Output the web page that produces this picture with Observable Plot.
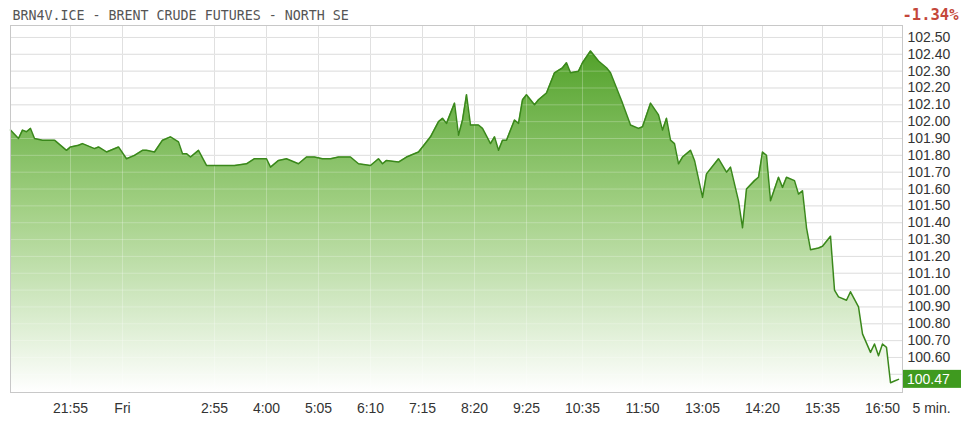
<!DOCTYPE html>
<html><head><meta charset="utf-8">
<script src="https://cdn.jsdelivr.net/npm/d3@7"></script>
<script src="https://cdn.jsdelivr.net/npm/@observablehq/plot@0.6"></script>
<style>
html,body{margin:0;padding:0;background:#fff;}
#chart{width:968px;height:422px;}
</style></head><body><div id="chart"></div>
<script>
const title = "BRN4V.ICE - BRENT CRUDE FUTURES - NORTH SE";
const changeText = "-1.34%";
const intervalText = "5 min.";
const lastPrice = 100.47;

const times = ["20:40","20:50","20:55","21:00","21:05","21:10","21:20","21:35","21:50","21:55",
"22:05","22:10","22:25","22:30","22:40","22:55","1:05","1:15","1:25","1:30",
"1:40","1:50","2:00","2:10","2:15","2:20","2:25","2:35","2:45","3:20",
"3:35","3:45","4:00","4:05","4:15","4:25","4:40","4:50","5:00","5:10",
"5:20","5:30","5:45","5:55","6:10","6:20","6:25","6:30","6:45","6:55",
"7:10","7:15","7:25","7:35","7:40","7:45","7:55","8:00","8:05","8:10",
"8:15","8:25","8:30","8:40","8:45","8:50","8:55","9:00","9:10","9:15",
"9:20","9:25","9:35","9:40","9:50","10:00","10:10","10:15","10:20","10:30",
"10:35","10:45","10:55","11:05","11:10","11:20","11:25","11:35","11:45","11:50",
"12:00","12:10","12:15","12:20","12:25","12:30","12:35","12:40","12:50","12:55",
"13:05","13:10","13:25","13:35","13:40","13:50","13:55","14:00","14:10","14:15",
"14:20","14:25","14:30","14:40","14:45","14:50","15:00","15:05","15:10","15:15",
"15:20","15:30","15:35","15:40","15:45","15:50","15:55","16:05","16:10","16:20",
"16:25","16:35","16:40","16:45","16:50","16:55","17:00","17:05","17:10"];

const prices = [101.95,101.90,101.95,101.94,101.96,101.90,101.89,101.89,101.83,101.85,
101.86,101.87,101.84,101.85,101.82,101.85,101.78,101.80,101.83,101.83,
101.82,101.89,101.91,101.88,101.81,101.81,101.79,101.83,101.74,101.74,
101.75,101.78,101.78,101.73,101.77,101.78,101.75,101.79,101.79,101.78,
101.78,101.79,101.79,101.75,101.74,101.78,101.75,101.77,101.76,101.79,
101.82,101.85,101.91,102.00,102.02,101.99,102.11,101.92,102.01,102.16,
101.98,101.98,101.96,101.87,101.91,101.83,101.89,101.89,102.01,101.99,
102.13,102.16,102.10,102.13,102.17,102.29,102.32,102.35,102.29,102.30,
102.35,102.42,102.36,102.32,102.29,102.17,102.11,101.98,101.96,101.97,
102.11,102.04,101.95,102.02,101.89,101.87,101.75,101.79,101.83,101.77,
101.55,101.69,101.78,101.70,101.73,101.53,101.37,101.60,101.65,101.67,
101.82,101.80,101.53,101.67,101.61,101.67,101.65,101.57,101.59,101.37,
101.24,101.25,101.26,101.29,101.32,101.00,100.96,100.94,100.99,100.90,
100.74,100.63,100.68,100.61,100.68,100.66,100.45,100.46,100.47];

const tickTimes = ["21:55","1:00","2:55","4:00","5:05","6:10","7:15","8:20","9:25","10:35","11:50","13:05","14:20","15:35","16:50"];
const tickLabels = ["21:55","Fri","2:55","4:00","5:05","6:10","7:15","8:20","9:25","10:35","11:50","13:05","14:20","15:35","16:50"];
const priceTicks = [100.60,100.70,100.80,100.90,101.00,101.10,101.20,101.30,101.40,101.50,101.60,101.70,101.80,101.90,102.00,102.10,102.20,102.30,102.40,102.50];
const gridPrices = [100.50].concat(priceTicks);
const timeDomain = ["20:40","17:15"];
const priceDomain = [100.392, 102.571];

// trading-time position: Thursday evening session, then closed 23:00-01:00
function tradeMin(s) {
  const [h, m] = s.split(":").map(Number);
  const mins = h * 60 + m;
  return mins >= 20 * 60 ? mins - (20 * 60 + 40) : 140 + mins - 60;
}

const data = times.map((t, i) => ({t: tradeMin(t), p: prices[i]}));
const tickPos = tickTimes.map(tradeMin);
const labelMap = new Map(tickPos.map((p, i) => [p, tickLabels[i]]));

const defs = () => {
  const g = d3.create("svg:defs");
  const lg = g.append("linearGradient").attr("id", "brentFill")
    .attr("x1", 0).attr("y1", 0).attr("x2", 0).attr("y2", 1);
  lg.append("stop").attr("offset", "0").attr("stop-color", "#52a22a");
  lg.append("stop").attr("offset", "0.45").attr("stop-color", "#a0cf82");
  lg.append("stop").attr("offset", "1").attr("stop-color", "#ffffff");
  return g.node();
};

const valueBox = (index, scales, values, dims) => {
  const g = d3.create("svg:g");
  const y = scales.y(lastPrice);
  const x0 = dims.width - dims.marginRight + 1;
  g.append("rect").attr("x", x0).attr("y", y - 9).attr("width", 58).attr("height", 18)
    .attr("fill", "#3f9a1f");
  g.append("text").attr("x", x0 + 4).attr("y", y).attr("dy", "0.35em")
    .attr("text-anchor", "start")
    .attr("fill", "#fff").attr("font-size", 14).text(lastPrice.toFixed(2));
  return g.node();
};

const chart = Plot.plot({
  width: 968, height: 422,
  marginLeft: 10, marginRight: 66, marginTop: 25, marginBottom: 30,
  style: {fontFamily: "'Liberation Sans', Arial, sans-serif", fontSize: "14px", color: "#333", background: "#fff", overflow: "visible"},
  x: {domain: timeDomain.map(tradeMin), axis: null, label: null},
  y: {domain: priceDomain, axis: null, label: null},
  marks: [
    defs,
    Plot.gridX(tickPos, {stroke: "#d6d6d6", strokeOpacity: 1}),
    Plot.gridY(gridPrices, {stroke: "#d6d6d6", strokeOpacity: 1}),
    Plot.areaY(data, {x: "t", y1: priceDomain[0], y2: "p", fill: "url(#brentFill)"}),
    Plot.gridX(tickPos, {stroke: "#ffffff", strokeOpacity: 0.25}),
    Plot.gridY(gridPrices, {stroke: "#ffffff", strokeOpacity: 0.25}),
    Plot.lineY(data, {x: "t", y: "p", stroke: "#3a881b", strokeWidth: 1.5}),
    Plot.frame({stroke: "#c8c8c8"}),
    Plot.axisX(tickPos, {anchor: "bottom", label: null, tickSize: 0, tickPadding: 11, tickFormat: d => labelMap.get(d), fill: "#333"}),
    Plot.axisY(priceTicks, {anchor: "right", label: null, tickSize: 0, tickPadding: 5, tickFormat: d => d.toFixed(2), fill: "#333"}),
    valueBox,
    Plot.text([title], {text: d => d, frameAnchor: "top-left", dx: 2, dy: -10, textAnchor: "start", lineAnchor: "middle", fontFamily: "'DejaVu Sans Mono', monospace", fontSize: 13.3, fill: "#555"}),
    Plot.text([changeText], {text: d => d, frameAnchor: "top-right", dx: 56, dy: -10, textAnchor: "end", lineAnchor: "middle", fontFamily: "'DejaVu Sans Mono', monospace", fontWeight: "bold", fontSize: 15.5, fill: "#c4473a"}),
    Plot.text([intervalText], {text: d => d, frameAnchor: "bottom-right", dx: 10, dy: 16, textAnchor: "start", lineAnchor: "middle", fill: "#333"})
  ]
});
document.getElementById("chart").appendChild(chart);
</script></body></html>
